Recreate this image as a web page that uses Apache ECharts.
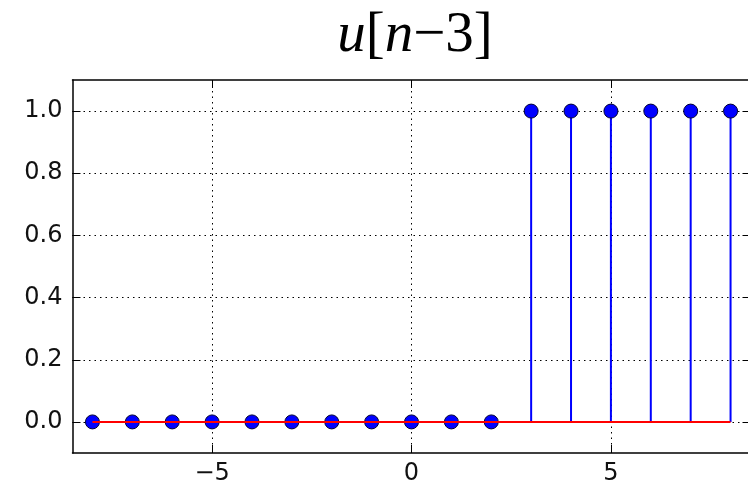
<!DOCTYPE html>
<html>
<head>
<meta charset="utf-8">
<script src="https://cdn.jsdelivr.net/npm/echarts@6/dist/echarts.min.js"></script>
<style>
  html, body { margin: 0; padding: 0; background: #fff; }
  #chart { width: 748px; height: 482px; }
</style>
</head>
<body>
<div id="chart"></div>
<script>
// sample index n and value of u[n-3]
const nValues = [-8, -7, -6, -5, -4, -3, -2, -1, 0, 1, 2, 3, 4, 5, 6, 7, 8]
const uValues = [0, 0, 0, 0, 0, 0, 0, 0, 0, 0, 0, 1, 1, 1, 1, 1, 1]
const xTicks = [-5, 0, 5]
const yTicks = [0, 0.2, 0.4, 0.6, 0.8, 1.0]

const points = nValues.map((n, i) => [n, uValues[i]])
const baseline = [[nValues[0], 0], [nValues[nValues.length - 1], 0]]

const chart = echarts.init(document.getElementById('chart'))

const spine = { show: true, onZero: false, lineStyle: { color: '#000', width: 1.5 } }
const grid = { show: true, type: [1.5, 4], color: '#000', width: 1 }
const labelFont = { fontFamily: 'DejaVu Sans', fontSize: 24, color: '#111' }
const minus = (v) => String(v).replace('-', '\u2212')

function stemItem(params, api) {
  const x = api.value(0)
  const top = api.coord([x, api.value(1)])
  const bottom = api.coord([x, 0])
  return {
    type: 'line',
    shape: { x1: top[0], y1: top[1], x2: bottom[0], y2: bottom[1] },
    style: { stroke: '#0000ff', lineWidth: 2 },
  }
}

chart.setOption({
  animation: false,
  title: {
    text: '{i|u}[{i|n}\u22123]',
    left: 410,
    textAlign: 'center',
    top: 3,
    textStyle: {
      rich: {
        i: { fontFamily: 'Liberation Serif', fontStyle: 'italic', fontSize: 57, color: '#000' },
      },
      fontFamily: 'Liberation Serif',
      fontSize: 57,
      fontWeight: 'normal',
      color: '#000',
    },
  },
  grid: { left: 72.5, top: 80, width: 678, height: 373, outerBoundsMode: 'none' },
  xAxis: [
    {
      type: 'value', min: -8.5, max: 8.5, position: 'bottom',
      axisLine: spine,
      axisTick: { inside: true, length: 8, lineStyle: { color: '#000' }, customValues: xTicks },
      axisLabel: { ...labelFont, margin: 9, customValues: xTicks, formatter: minus },
      splitLine: { show: true, lineStyle: grid },
    },
    {
      type: 'value', min: -8.5, max: 8.5, position: 'top',
      axisLine: spine,
      axisTick: { inside: true, length: 8, lineStyle: { color: '#000' }, customValues: xTicks },
      axisLabel: { show: false },
      splitLine: { show: false },
    },
  ],
  yAxis: [
    {
      type: 'value', min: -0.1, max: 1.1, position: 'left',
      axisLine: spine,
      axisTick: { inside: true, length: 8, lineStyle: { color: '#000' }, customValues: yTicks },
      axisLabel: { ...labelFont, margin: 10, customValues: yTicks, formatter: (v) => v.toFixed(1) },
      splitLine: { show: true, lineStyle: grid },
    },
    {
      type: 'value', min: -0.1, max: 1.1, position: 'right',
      axisLine: spine,
      axisTick: { inside: true, length: 8, lineStyle: { color: '#000' }, customValues: yTicks },
      axisLabel: { show: false },
      splitLine: { show: false },
    },
  ],
  series: [
    {
      type: 'custom',
      renderItem: stemItem,
      data: points,
      z: 2,
    },
    {
      type: 'scatter',
      data: points,
      symbol: 'circle',
      symbolSize: 14,
      itemStyle: { color: '#0000ff', borderColor: '#000033', borderWidth: 1, opacity: 1 },
      z: 3,
    },
    {
      type: 'line',
      data: baseline,
      symbol: 'none',
      lineStyle: { color: '#ff0000', width: 2 },
      z: 4,
    },
  ],
})
</script>
</body>
</html>
